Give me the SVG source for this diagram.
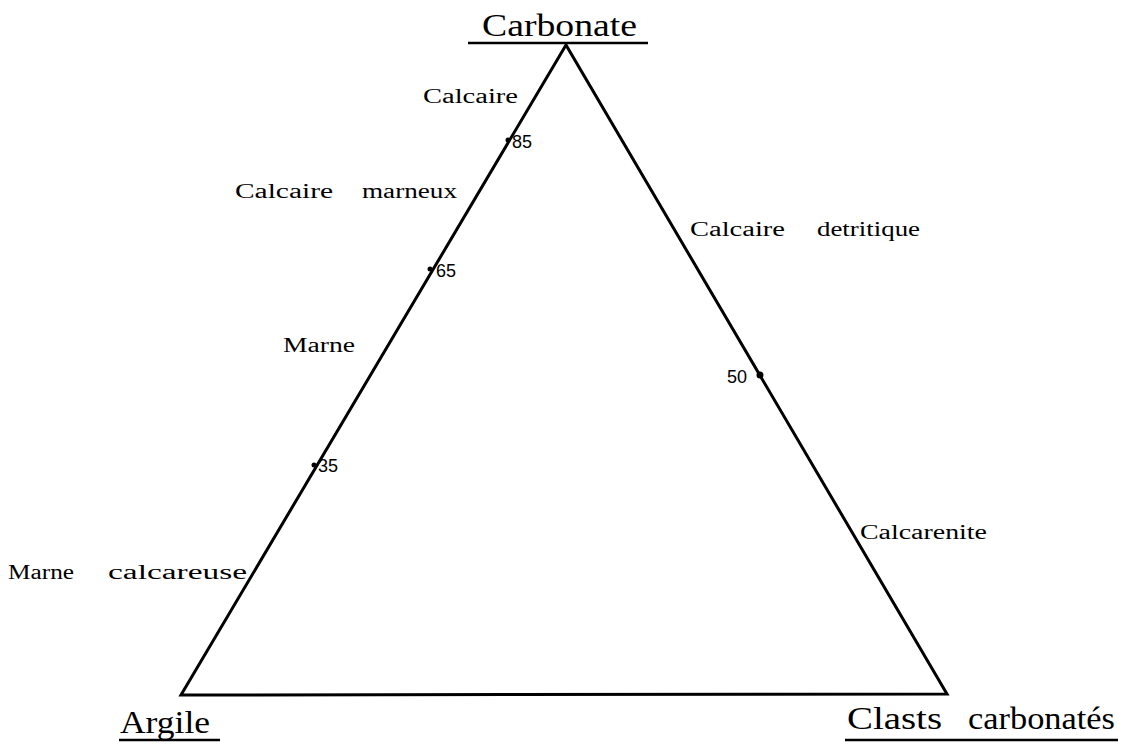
<svg xmlns="http://www.w3.org/2000/svg" width="1133" height="748" viewBox="0 0 1133 748">
<style>
.edge{stroke:#000;stroke-width:3;fill:none;stroke-linejoin:miter}
.ul{stroke:#000;stroke-width:2.5}
.title{font-family:"Liberation Serif","DejaVu Serif",serif;font-size:32px;fill:#000}
.lbl{font-family:"Liberation Serif","DejaVu Serif",serif;font-size:20px;fill:#000}
.num{font-family:"Liberation Sans",Arial,sans-serif;font-size:18px;fill:#000}
.dot{fill:#000}
</style>
<rect width="1133" height="748" fill="#fff"/>
<g id="connectors">
<polygon class="edge" points="566,45 181,695 947,694"/>
</g>
<g id="node-carbonate">
<text class="title" x="482" y="36" textLength="155" lengthAdjust="spacingAndGlyphs">Carbonate</text>
<line class="ul" x1="468" y1="43" x2="648" y2="43"/>
</g>
<g id="node-argile">
<text class="title" x="120" y="733" textLength="90" lengthAdjust="spacingAndGlyphs">Argile</text>
<line class="ul" x1="119" y1="740" x2="220" y2="740"/>
</g>
<g id="node-clasts">
<text class="title" x="847" y="729" textLength="95" lengthAdjust="spacingAndGlyphs">Clasts</text>
<text class="title" x="968" y="729" textLength="147" lengthAdjust="spacingAndGlyphs">carbonatés</text>
<line class="ul" x1="845" y1="740" x2="1118" y2="740"/>
</g>
<g id="node-85">
<circle class="dot" cx="508" cy="140" r="2.5"/>
<text class="num" x="512" y="148">85</text>
</g>
<g id="node-65">
<circle class="dot" cx="430" cy="269" r="2.5"/>
<text class="num" x="436" y="277">65</text>
</g>
<g id="node-35">
<circle class="dot" cx="314" cy="465" r="2.5"/>
<text class="num" x="318" y="472">35</text>
</g>
<g id="node-50">
<circle class="dot" cx="760" cy="375" r="3.5"/>
<text class="num" x="727" y="383">50</text>
</g>
<g id="label-calcaire">
<text class="lbl" x="423" y="103" textLength="95" lengthAdjust="spacingAndGlyphs">Calcaire</text>
</g>
<g id="label-calcaire-marneux">
<text class="lbl" x="235" y="198" textLength="98" lengthAdjust="spacingAndGlyphs">Calcaire</text>
<text class="lbl" x="362" y="198" textLength="95" lengthAdjust="spacingAndGlyphs">marneux</text>
</g>
<g id="label-marne">
<text class="lbl" x="283" y="352" textLength="72" lengthAdjust="spacingAndGlyphs">Marne</text>
</g>
<g id="label-marne-calcareuse">
<text class="lbl" x="8" y="579" textLength="66" lengthAdjust="spacingAndGlyphs">Marne</text>
<text class="lbl" x="108" y="579" textLength="139" lengthAdjust="spacingAndGlyphs">calcareuse</text>
</g>
<g id="label-calcaire-detritique">
<text class="lbl" x="690" y="236" textLength="95" lengthAdjust="spacingAndGlyphs">Calcaire</text>
<text class="lbl" x="817" y="236" textLength="103" lengthAdjust="spacingAndGlyphs">detritique</text>
</g>
<g id="label-calcarenite">
<text class="lbl" x="860" y="539" textLength="127" lengthAdjust="spacingAndGlyphs">Calcarenite</text>
</g>
</svg>
